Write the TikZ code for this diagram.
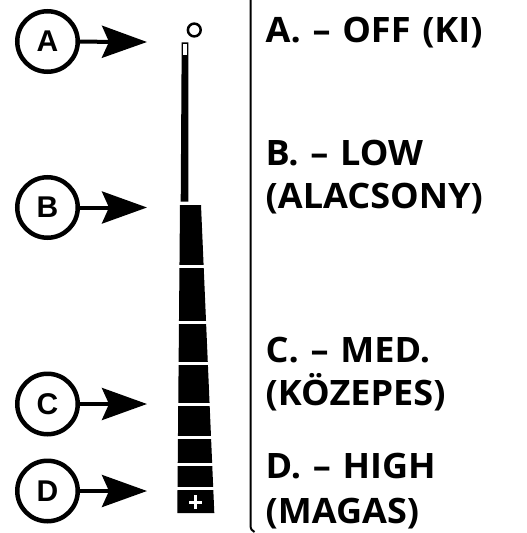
\documentclass[tikz,border=0pt]{standalone}
\usepackage{fontspec}
\usetikzlibrary{arrows.meta}
\newfontfamily\lblfont{Open Sans}[FakeStretch=1.03,WordSpace=1.25]
\newfontfamily\circfont{Liberation Sans}
\begin{document}
\begin{tikzpicture}[x=1pt,y=-1pt,
  badge/.style={circle,draw,line width=4.5pt,minimum size=60.5pt,inner sep=0pt,
    font=\circfont\bfseries\fontsize{30}{30}\selectfont},
  pointer/.style={line width=4pt,-{Stealth[length=45pt,width=32pt,inset=7pt]}},
  lbl/.style={anchor=base west,inner sep=0pt,
    font=\lblfont\bfseries\fontsize{35}{40}\selectfont},
  gapline/.style={white,line width=3pt}]
\useasboundingbox (0,0) rectangle (527,533);

% badges and arrows
\node[badge] (cA) at (47.5,41.5) {A};
\node[badge] (cB) at (47.5,207.5) {B};
\node[badge] (cC) at (47.5,404) {C};
\node[badge] (cD) at (47.5,491) {D};
\coordinate (tA) at (147,42);
\coordinate (tB) at (147,207.5);
\coordinate (tC) at (147,404);
\coordinate (tD) at (147,491);
\draw[pointer] (cA) -- (tA);
\draw[pointer] (cB) -- (tB);
\draw[pointer] (cC) -- (tC);
\draw[pointer] (cD) -- (tD);

% knob indicator
\draw[line width=2.5pt] (194.3,30) circle (6.4);
\fill (181.7,42.3) -- (188.3,42.3) -- (188.3,201.7) -- (180.7,201.7) -- cycle;
\fill[white] (182.6,43.6) rectangle (187,55.3);
\fill (180,205) -- (201,205) -- (214.3,513) -- (177.3,513) -- cycle;
\foreach \g in {266,322.8,363.8,404.8,437.3,464.8,488.3}
  \draw[gapline] (170,\g) -- (222,\g);
\draw[white,line width=3pt] (189,502) -- (202.4,502) (195.7,495.3) -- (195.7,508.7);

% divider
\draw[line width=2pt] (250.5,0) -- (250.5,525) .. controls (250.5,529) and (252,531) .. (254.5,532);

% labels
\node[lbl] (lA) at (265.5,42.7) {A. – OFF (KI)};
\node[lbl] (lB1) at (265.5,165) {B. – LOW};
\node[lbl] (lB2) at (265.5,208) {(ALACSONY)};
\node[lbl] (lC1) at (265.5,362) {C. – MED.};
\node[lbl] (lC2) at (265.5,405.5) {(KÖZEPES)};
\node[lbl] (lD1) at (265.5,478.5) {D. – HIGH};
\node[lbl] (lD2) at (265.5,523) {(MAGAS)};
\end{tikzpicture}
\end{document}
